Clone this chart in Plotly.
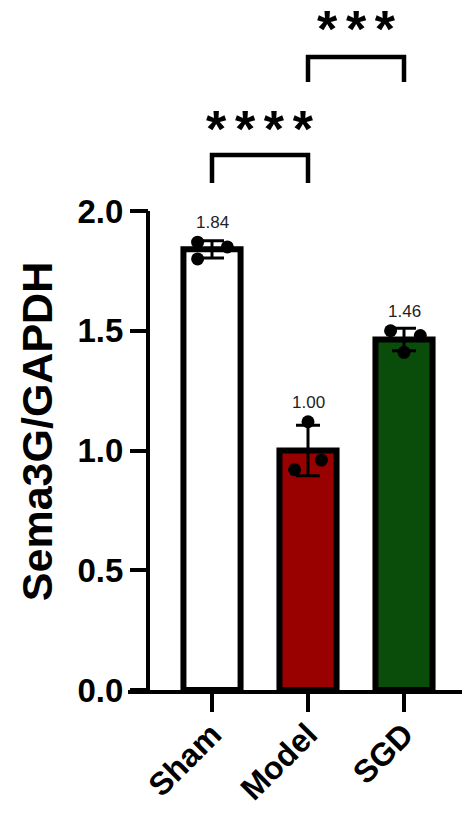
import numpy as np
import plotly.graph_objects as go

# ---- data ----
categories = ["Sham", "Model", "SGD"]
sham_values = [1.87, 1.85, 1.80]
model_values = [1.12, 0.92, 0.96]
sgd_values = [1.50, 1.48, 1.41]
y_tick_values = [0.0, 0.5, 1.0, 1.5, 2.0]
y_tick_labels = ["0.0", "0.5", "1.0", "1.5", "2.0"]
comparisons = [("Sham", "Model", "****"), ("Model", "SGD", "***")]
y_title = "Sema3G/GAPDH"

groups = [sham_values, model_values, sgd_values]
means = [float(np.mean(g)) for g in groups]
sds = [float(np.std(g, ddof=1)) for g in groups]

# ---- styling / layout ----
W, H = 462, 813
FONT = "Liberation Sans, Arial, Helvetica, sans-serif"
bar_colors = ["#ffffff", "#990000", "#0a4d0a"]
jitter = [[-0.15, 0.16, -0.15], [0.0, -0.14, 0.14], [-0.14, 0.17, 0.0]]
xpos = list(range(len(categories)))

fig = go.Figure()
fig.add_trace(go.Bar(
    x=xpos, y=means, width=0.595,
    marker=dict(color=bar_colors, line=dict(color="black", width=6)),
    error_y=dict(type="data", array=sds, color="black", thickness=3, width=12),
    showlegend=False, hoverinfo="skip",
))
px_, py_ = [], []
for i, g in enumerate(groups):
    for j, v in enumerate(g):
        px_.append(xpos[i] + jitter[i][j])
        py_.append(v)
fig.add_trace(go.Scatter(
    x=px_, y=py_, mode="markers",
    marker=dict(color="black", size=13),
    showlegend=False, hoverinfo="skip", cliponaxis=False,
))

annotations = []
for i, g in enumerate(groups):
    annotations.append(dict(
        x=xpos[i], y=max(g), xref="x", yref="y", text=f"{means[i]:.2f}",
        showarrow=False, yanchor="bottom", yshift=8,
        font=dict(family=FONT, size=17, color="#222222"),
    ))

shapes = []
levels = [(2.117, 2.234), (2.539, 2.643)]
star_shift = [-5, -3]
for (a, b, lab), (ybot, ytop), ys in zip(comparisons, levels, star_shift):
    xa, xb = categories.index(a), categories.index(b)
    shapes.append(dict(
        type="path", xref="x", yref="y",
        path=f"M {xa},{ybot} L {xa},{ytop} L {xb},{ytop} L {xb},{ybot}",
        line=dict(color="black", width=4.5),
    ))
    annotations.append(dict(
        x=(xa + xb) / 2, y=ytop, xref="x", yref="y", text="\u2006".join(lab),
        showarrow=False, yanchor="bottom", yshift=ys,
        font=dict(family=FONT, size=52, color="black", weight="bold"),
    ))

# y axis line from 0 to 2.0
yaxis_pos = 20 / (W - 128)
shapes.append(dict(
    type="line", xref="paper", yref="y", x0=yaxis_pos, x1=yaxis_pos,
    y0=0, y1=max(y_tick_values), line=dict(color="black", width=4),
))

annotations.append(dict(
    x=-0.27, y=1.08, xref="paper", yref="y", text=y_title, textangle=-90,
    showarrow=False, xanchor="center", yanchor="middle",
    font=dict(family=FONT, size=43, color="black", weight="bold"),
))

fig.update_layout(
    width=W, height=H,
    margin=dict(l=128, r=0, t=0, b=123, pad=0, autoexpand=False),
    plot_bgcolor="white", paper_bgcolor="white",
    shapes=shapes, annotations=annotations,
    xaxis=dict(
        range=[-0.875, 2.604], tickvals=xpos, ticktext=categories, automargin=False,
        showgrid=False, zeroline=False, showline=True, linecolor="black", linewidth=4,
        ticks="outside", ticklen=18, tickwidth=4, tickcolor="black", tickangle=-45,
        ticklabelstandoff=-9,
        tickfont=dict(family=FONT, size=32, color="black", weight="bold"),
    ),
    yaxis=dict(
        range=[0, 2.881], tickvals=y_tick_values, ticktext=y_tick_labels,
        anchor="free", position=yaxis_pos, automargin=False,
        showgrid=False, zeroline=False, showline=False,
        ticks="outside", ticklen=18, tickwidth=4, tickcolor="black",
        tickfont=dict(family=FONT, size=33, color="black", weight="bold"),
    ),
)

fig.write_html("out.html")
